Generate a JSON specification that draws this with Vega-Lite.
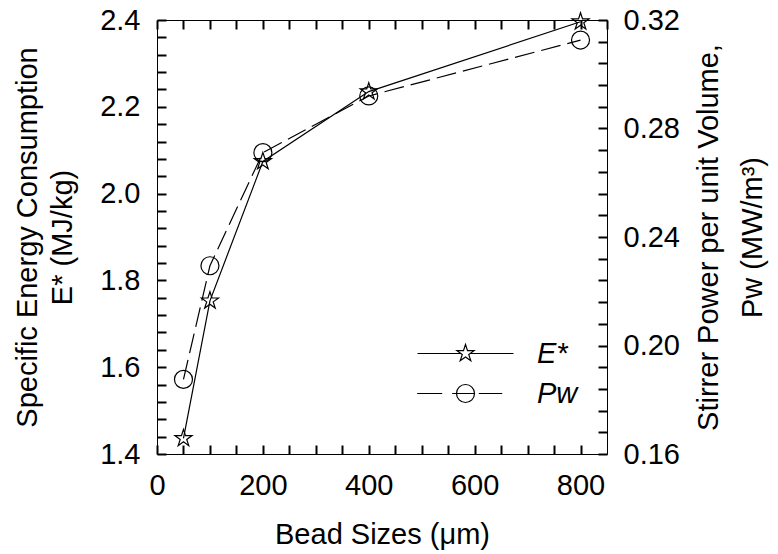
{
  "$schema": "https://vega.github.io/schema/vega-lite/v6.json",
  "width": 450,
  "height": 434,
  "autosize": {"type": "none"},
  "padding": {"left": 157, "top": 20, "right": 171, "bottom": 100},
  "background": "white",
  "config": {
    "font": "Liberation Sans",
    "view": {"stroke": "black", "strokeWidth": 1},
    "axis": {
      "grid": false,
      "labelFontSize": 29,
      "labelColor": "black",
      "labelFlush": false,
      "labelOverlap": false,
      "titleFontSize": 29,
      "titleFontWeight": "normal",
      "titleColor": "black"
    },
    "legend": {
      "orient": "none",
      "legendX": 294,
      "legendY": 319,
      "padding": 0,
      "rowPadding": 10,
      "labelOffset": 57,
      "labelFontSize": 29,
      "labelFontStyle": "italic",
      "labelColor": "black",
      "symbolSize": 324,
      "symbolStrokeWidth": 1.2,
      "symbolStrokeColor": "black",
      "symbolFillColor": "transparent"
    }
  },
  "data": {
    "values": [
      {"bead": 50, "series": "E*", "value": 1.436},
      {"bead": 100, "series": "E*", "value": 1.753},
      {"bead": 200, "series": "E*", "value": 2.074},
      {"bead": 400, "series": "E*", "value": 2.235},
      {"bead": 800, "series": "E*", "value": 2.396},
      {"bead": 50, "series": "Pw", "value": 0.1875},
      {"bead": 100, "series": "Pw", "value": 0.2294},
      {"bead": 200, "series": "Pw", "value": 0.2711},
      {"bead": 400, "series": "Pw", "value": 0.292},
      {"bead": 800, "series": "Pw", "value": 0.3126}
    ]
  },
  "layer": [
    {
      "transform": [{"filter": "datum.series === 'E*'"}],
      "encoding": {
        "x": {
          "field": "bead",
          "type": "quantitative",
          "scale": {"domain": [0, 850], "nice": false, "zero": false},
          "axis": {
            "orient": "bottom",
            "title": "Bead Sizes (μm)",
            "values": [0, 50, 100, 150, 200, 250, 300, 350, 400, 450, 500, 550, 600, 650, 700, 750, 800],
            "labelExpr": "datum.value % 200 === 0 ? datum.label : ''",
            "domain": false,
            "tickColor": "black",
            "tickWidth": 2,
            "tickSize": 9,
            "offset": -9,
            "labelPadding": 17,
            "titlePadding": 20
          }
        },
        "y": {
          "field": "value",
          "type": "quantitative",
          "scale": {"domain": [1.4, 2.4], "nice": false, "zero": false},
          "axis": {
            "orient": "left",
            "title": ["Specific Energy Consumption", "E* (MJ/kg)"],
            "titleLineHeight": 35,
            "titleAngle": 270,
            "titleBaseline": "bottom",
            "titlePadding": 22,
            "values": [1.4, 1.44, 1.48, 1.52, 1.56, 1.6, 1.64, 1.68, 1.72, 1.76, 1.8, 1.84, 1.88, 1.92, 1.96, 2.0, 2.04, 2.08, 2.12, 2.16, 2.2, 2.24, 2.28, 2.32, 2.36, 2.4],
            "format": ".1f",
            "labelExpr": "abs(datum.value * 5 - round(datum.value * 5)) < 0.001 ? datum.label : ''",
            "domain": false,
            "tickColor": "black",
            "tickWidth": 2,
            "tickSize": 9,
            "offset": -9,
            "labelPadding": 17
          }
        }
      },
      "layer": [
        {"mark": {"type": "line", "color": "black", "strokeWidth": 1.2}},
        {
          "mark": {"type": "point", "filled": false, "strokeWidth": 1.2, "size": 324, "opacity": 1, "shape": "M0,-1L0.2245,-0.309L0.951,-0.309L0.363,0.118L0.588,0.809L0,0.382L-0.588,0.809L-0.363,0.118L-0.951,-0.309L-0.2245,-0.309Z"},
          "encoding": {
            "color": {
              "field": "series",
              "type": "nominal",
              "scale": {"domain": ["E*", "Pw"], "range": ["black", "black"]},
              "legend": {
                "title": null,
                "symbolType": {"expr": "datum.value === 'E*' ? 'M-5.33,0L-0.53,0M0.53,0L5.33,0M0,-1L0.2245,-0.309L0.951,-0.309L0.363,0.118L0.588,0.809L0,0.382L-0.588,0.809L-0.363,0.118L-0.951,-0.309L-0.2245,-0.309Z' : 'M-5.37,0L-2.59,0M-1.48,0L1.03,0M1.48,0L4.08,0M1,0A1,1,0,1,1,-1,0A1,1,0,1,1,1,0'"}
              }
            }
          }
        }
      ]
    },
    {
      "transform": [{"filter": "datum.series === 'Pw'"}],
      "encoding": {
        "x": {
          "field": "bead",
          "type": "quantitative",
          "scale": {"domain": [0, 850], "nice": false, "zero": false},
          "axis": {
            "orient": "top",
            "title": null,
            "labels": false,
            "domain": false,
            "tickCount": 17,
            "tickColor": "black",
            "tickWidth": 2,
            "tickSize": 9,
            "offset": -9
          }
        },
        "y": {
          "field": "value",
          "type": "quantitative",
          "scale": {"domain": [0.16, 0.32], "nice": false, "zero": false},
          "axis": {
            "orient": "right",
            "title": ["Stirrer Power per unit Volume,", "Pw (MW/m³)"],
            "titleLineHeight": 44,
            "titleAngle": 270,
            "titleBaseline": "top",
            "titlePadding": -29,
            "values": [0.16, 0.168, 0.176, 0.184, 0.192, 0.2, 0.208, 0.216, 0.224, 0.232, 0.24, 0.248, 0.256, 0.264, 0.272, 0.28, 0.288, 0.296, 0.304, 0.312, 0.32],
            "format": ".2f",
            "labelExpr": "abs(datum.value * 25 - round(datum.value * 25)) < 0.001 ? datum.label : ''",
            "domain": false,
            "tickColor": "black",
            "tickWidth": 2,
            "tickSize": 9,
            "offset": -9,
            "labelPadding": 16
          }
        }
      },
      "layer": [
        {"mark": {"type": "line", "color": "black", "strokeWidth": 1.2, "strokeDash": [20, 7]}},
        {
          "mark": {"type": "point", "filled": false, "strokeWidth": 1.2, "size": 324, "opacity": 1, "shape": "circle"},
          "encoding": {
            "color": {
              "field": "series",
              "type": "nominal",
              "scale": {"domain": ["E*", "Pw"], "range": ["black", "black"]}
            }
          }
        }
      ]
    }
  ],
  "resolve": {"scale": {"y": "independent"}, "axis": {"x": "independent"}}
}
